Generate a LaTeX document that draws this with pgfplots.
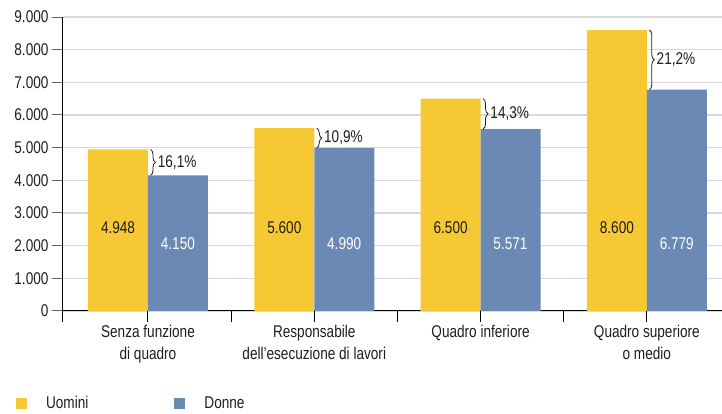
\documentclass[border=0pt]{standalone}
\usepackage{fontspec}
\setmainfont{Liberation Sans}[FakeStretch=0.8]
\usepackage{pgfplots}
\pgfplotsset{compat=1.18}
\usetikzlibrary{decorations.pathreplacing}
\definecolor{cY}{HTML}{F6C934}
\definecolor{cB}{HTML}{6A8AB5}
\definecolor{cGrid}{HTML}{D9D9D9}
\definecolor{cTxt}{HTML}{1E1E1E}
\newcommand{\fs}{\fontsize{17}{21.5}\selectfont}
\tikzset{
  br/.style={cTxt, line width=0.8pt, decorate, decoration={brace, amplitude=5pt}},
  pl/.style={midway, anchor=west, xshift=6pt, inner sep=1pt, font=\fs, text=cTxt},
  vy/.style={font=\fs, text=cTxt},
  vb/.style={font=\fs, text=white},
}
\begin{document}
\begin{tikzpicture}
\useasboundingbox (-63pt,-103pt) rectangle (659pt,311pt);
\begin{axis}[
  at={(0,0)}, anchor=south west,
  scale only axis, width=659pt, height=294pt,
  xmin=-0.511, xmax=3.452, ymin=0, ymax=9000,
  axis lines=left, axis line style={-, black, line width=1pt},
  ybar, bar width=60pt,
  ytick={0,1000,...,9000},
  ymajorgrids, y grid style={draw=cGrid, line width=1.2pt},
  yticklabel style={font=\fs, text=cTxt},
  /pgf/number format/.cd, 1000 sep={.}, assume math mode=true, /pgfplots/.cd,
  scaled y ticks=false,
  tick align=outside, major tick length=11pt,
  y tick style={draw=gray!80!black, line width=1pt},
  xtick={-0.511,0.5,1.5,2.5}, xticklabels={,,,},
  x tick style={draw=black, line width=1pt},
  extra x ticks={0,1,2,3},
  extra x tick labels={{Senza funzione\\di quadro},{Responsabile\\dell’esecuzione di lavori},{Quadro inferiore},{Quadro superiore\\o medio}},
  extra x tick style={tick style={draw=none}, xticklabel style={align=center, font=\fs, text=cTxt}},
  legend columns=2,
  legend style={at={(axis description cs:-0.076,-0.313)}, anchor=west, draw=none, fill=none,
    font=\fs, text=cTxt, /tikz/every even column/.append style={column sep=84pt},
    /tikz/every odd column/.append style={column sep=17pt}},
  legend image code/.code={\fill[#1] (0pt,-5.5pt) rectangle (11pt,5.5pt);},
]
\addplot[fill=cY, draw=none, bar shift=-30pt] coordinates {(0,4948) (1,5600) (2,6500) (3,8600)};
\addlegendentry{Uomini}
\addplot[fill=cB, draw=none, bar shift=30pt] coordinates {(0,4150) (1,4990) (2,5571) (3,6779)};
\addlegendentry{Donne}
% value labels
\node[vy] at (axis cs:-0.18,2540) {4.948};
\node[vy] at (axis cs:0.82,2540) {5.600};
\node[vy] at (axis cs:1.82,2540) {6.500};
\node[vy] at (axis cs:2.82,2540) {8.600};
\node[vb] at (axis cs:0.18,2050) {4.150};
\node[vb] at (axis cs:1.18,2050) {4.990};
\node[vb] at (axis cs:2.18,2050) {5.571};
\node[vb] at (axis cs:3.18,2050) {6.779};
% braces
\draw[br] ([xshift=2.5pt]axis cs:0,4948) -- ([xshift=2.5pt]axis cs:0,4150) node[pl] {16,1\%};
\draw[br] ([xshift=2.5pt]axis cs:1,5600) -- ([xshift=2.5pt]axis cs:1,4990) node[pl] {10,9\%};
\draw[br] ([xshift=2.5pt]axis cs:2,6500) -- ([xshift=2.5pt]axis cs:2,5571) node[pl] {14,3\%};
\draw[br] ([xshift=2.5pt]axis cs:3,8600) -- ([xshift=2.5pt]axis cs:3,6779) node[pl] {21,2\%};
\end{axis}
\end{tikzpicture}
\end{document}
